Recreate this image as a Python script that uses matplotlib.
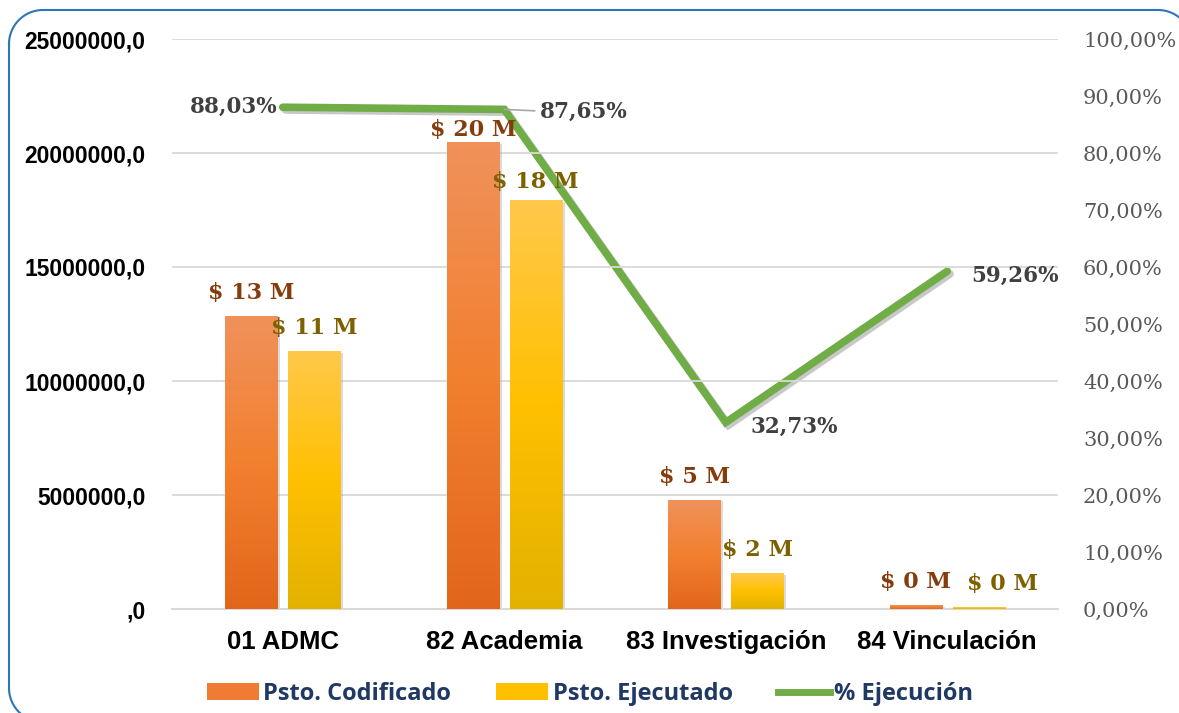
import numpy as np
import matplotlib
matplotlib.use('Agg')
import matplotlib.pyplot as plt
import matplotlib.patheffects as pe
from matplotlib.patches import Patch
from matplotlib.lines import Line2D
from matplotlib.colors import LinearSegmentedColormap

categories = ['01 ADMC', '82 Academia', '83 Investigación', '84 Vinculación']
codificado = [12810000, 20440000, 4780000, 135000]
ejecutado = [11280000, 17900000, 1570000, 80000]
ejecucion_pct = [88.03, 87.65, 32.73, 59.26]
cod_labels = ['$ 13 M', '$ 20 M', '$ 5 M', '$ 0 M']
eje_labels = ['$ 11 M', '$ 18 M', '$ 2 M', '$ 0 M']
pct_labels = ['88,03%', '87,65%', '32,73%', '59,26%']
left_ticks = [0, 5000000, 10000000, 15000000, 20000000, 25000000]
left_tick_labels = [',0', '5000000,0', '10000000,0', '15000000,0', '20000000,0', '25000000,0']
right_ticks = [0, 10, 20, 30, 40, 50, 60, 70, 80, 90, 100]
right_tick_labels = ['0,00%', '10,00%', '20,00%', '30,00%', '40,00%', '50,00%',
                     '60,00%', '70,00%', '80,00%', '90,00%', '100,00%']

W, H = 1179, 713
fig = plt.figure(figsize=(W / 100, H / 100), dpi=100)
fig.patch.set_facecolor('white')

# rounded chart border, built in pixel space (right/bottom run off the canvas)
def corner(cx, cy, a0, a1, r):
    t = np.radians(np.linspace(a0, a1, 30))
    return cx + r * np.cos(t), cy + r * np.sin(t)

L, T, R, B, rad = 9, 10, 1192, 722, 34
xs, ys = [], []
for cx, cy, a0, a1 in [(L + rad, T + rad, 180, 270), (R - rad, T + rad, 270, 360),
                       (R - rad, B - rad, 0, 90), (L + rad, B - rad, 90, 180)]:
    px, py = corner(cx, cy, a0, a1, rad)
    xs.extend(px)
    ys.extend(py)
xs.append(xs[0])
ys.append(ys[0])
fig.add_artist(Line2D(np.array(xs) / W, 1 - np.array(ys) / H, transform=fig.transFigure,
                      color='#2E75B6', linewidth=1.5))

ax = fig.add_axes([172 / W, 1 - 609 / H, (1058 - 172) / W, (609 - 39) / H])
ax2 = ax.twinx()

x = np.arange(len(categories))
width = 0.235
off = 0.142

orange_cmap = LinearSegmentedColormap.from_list('o', ['#E2661A', '#F2802F', '#F0915A'])
yellow_cmap = LinearSegmentedColormap.from_list('y', ['#E3B200', '#FFC000', '#FFC84A'])

shadow = [pe.SimplePatchShadow(offset=(2, -1), shadow_rgbFace='#999999', alpha=0.35), pe.Normal()]
for vals, sign, cmap in [(codificado, -1, orange_cmap), (ejecutado, 1, yellow_cmap)]:
    bars = ax.bar(x + sign * off, vals, width, color=cmap(0.5), zorder=2)
    for b in bars:
        b.set_path_effects(shadow)
        x0, h = b.get_x(), b.get_height()
        grad = np.linspace(0, 1, 100).reshape(-1, 1)
        ax.imshow(grad, cmap=cmap, origin='lower', aspect='auto',
                  extent=(x0, x0 + width, 0, h), zorder=3)
ax.set_xlim(-0.5, len(categories) - 0.5)
ax.set_ylim(0, 25000000)

# bar labels, a few nudged like in the original (offsets in points)
cod_nudge = {1: (0, 1.5)}
eje_nudge = {1: (0, 5.5), 3: (17, 9)}
for i in range(len(categories)):
    dx, dy = cod_nudge.get(i, (0, 9))
    ax.annotate(cod_labels[i], xy=(x[i] - off, codificado[i]), xytext=(dx, dy),
                textcoords='offset points', ha='center', va='bottom',
                family='DejaVu Serif', fontweight='bold', fontsize=16, color='#843C0C', zorder=5)
    dx, dy = eje_nudge.get(i, (0, 9))
    ax.annotate(eje_labels[i], xy=(x[i] + off, ejecutado[i]), xytext=(dx, dy),
                textcoords='offset points', ha='center', va='bottom',
                family='DejaVu Serif', fontweight='bold', fontsize=16, color='#7F6000', zorder=5)

ax.set_yticks(left_ticks)
ax.set_yticklabels(left_tick_labels, fontsize=16.5, fontweight='bold', family='Liberation Sans')
ax.set_xticks(x)
ax.set_xticklabels(categories, fontsize=18.5, fontweight='bold', family='Liberation Sans')
ax.tick_params(axis='y', length=0, pad=19)
ax.tick_params(axis='x', length=0, pad=15)
ax.grid(axis='y', color='#D9D9D9', linewidth=1.3, zorder=0)
ax.set_axisbelow(True)
for s in ['top', 'right', 'left']:
    ax.spines[s].set_visible(False)
ax.spines['bottom'].set_color('#D9D9D9')
ax.spines['bottom'].set_linewidth(1.5)

# percentage line
ax2.plot(x, ejecucion_pct, color='#70AD47', linewidth=5.5, solid_capstyle='round',
         solid_joinstyle='miter', zorder=4,
         path_effects=[pe.SimpleLineShadow(offset=(2, -2), shadow_color='#777777', alpha=0.4),
                       pe.Normal()])
ax2.set_ylim(0, 100)
ax2.set_yticks(right_ticks)
ax2.set_yticklabels(right_tick_labels, fontsize=15, family='DejaVu Serif', color='#595959')
ax2.tick_params(axis='y', length=0, pad=18)
for s in ax2.spines.values():
    s.set_visible(False)
ax.set_zorder(ax2.get_zorder() + 1)
ax.patch.set_visible(False)

pct_style = dict(family='DejaVu Serif', fontweight='bold', fontsize=15.5, color='#404040')
ax.annotate(pct_labels[0], xy=(x[0], ejecucion_pct[0] / 100 * 25000000), xytext=(-4, 0),
            textcoords='offset points', ha='right', va='center', **pct_style)
ax.annotate(pct_labels[1], xy=(x[1], ejecucion_pct[1] / 100 * 25000000), xytext=(26, -2),
            textcoords='offset points', ha='left', va='center', **pct_style,
            arrowprops=dict(arrowstyle='-', color='#A6A6A6', lw=1.2, shrinkA=2, shrinkB=0,
                            relpos=(0, 0.55)))
ax.annotate(pct_labels[2], xy=(x[2], ejecucion_pct[2] / 100 * 25000000), xytext=(18, -3),
            textcoords='offset points', ha='left', va='center', **pct_style)
ax.annotate(pct_labels[3], xy=(x[3], ejecucion_pct[3] / 100 * 25000000), xytext=(17, -3),
            textcoords='offset points', ha='left', va='center', **pct_style)

# legend
handles = [Patch(facecolor='#F07B32', edgecolor='none'),
           Patch(facecolor='#FFC000', edgecolor='none'),
           Line2D([0], [0], color='#70AD47', linewidth=5)]
leg = fig.legend(handles, ['Psto. Codificado', 'Psto. Ejecutado', '% Ejecución'],
                 loc='center', bbox_to_anchor=(590 / W, 1 - 694 / H), ncol=3, frameon=False,
                 handlelength=2.2, handleheight=0.72, handletextpad=0.2, columnspacing=1.9,
                 prop=dict(family='Open Sans', weight='bold', size=17))
for t in leg.get_texts():
    t.set_color('#1F3864')

fig.savefig('out.png', dpi=100, facecolor='white')
